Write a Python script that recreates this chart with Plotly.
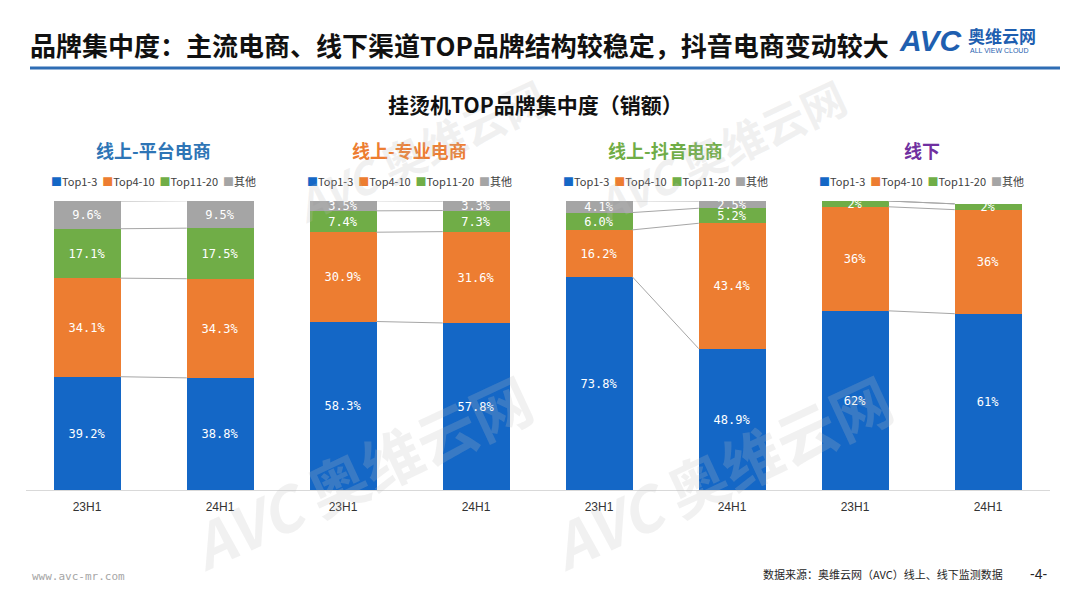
import plotly.graph_objects as go

# ---------------- data ----------------
periods = ["23H1", "24H1"]
panels = ["线上-平台电商", "线上-专业电商", "线上-抖音电商", "线下"]
panel_colors = ["#2E75B6", "#ED7D31", "#70AD47", "#7030A0"]
segments = ["Top1-3", "Top4-10", "Top11-20", "其他"]
segment_colors = ["#1467C6", "#ED7D31", "#70AD47", "#A5A5A5"]

# values per panel, [23H1, 24H1]
top1_3 = [[39.2, 38.8], [58.3, 57.8], [73.8, 48.9], [62, 61]]
top4_10 = [[34.1, 34.3], [30.9, 31.6], [16.2, 43.4], [36, 36]]
top11_20 = [[17.1, 17.5], [7.4, 7.3], [6.0, 5.2], [2, 2]]
others = [[9.6, 9.5], [3.5, 3.3], [4.1, 2.5], [0, 0]]
label_decimals = [1, 1, 1, 0]

series = [top1_3, top4_10, top11_20, others]

# ---------------- layout helpers ----------------
OFF = 8  # page body margin
W, H = 1080 - OFF, 608 - OFF
def px_x(x):
    return (x - OFF) / W
def px_y(y):
    return 1 - (y - OFF) / H

panel_w = 256
panel_x0 = 25.5
y_bottom, y_top = 490, 201
sep_px = 133
rng_half = panel_w / sep_px / 2

fig = go.Figure()
layout_axes = {}

for p in range(4):
    ax = "" if p == 0 else str(p + 1)
    xref = "x" + ax
    yref = "y" + ax
    for s in range(4):
        vals = series[s][p]
        d = label_decimals[p]
        texts = [("" if v == 0 else f"{v:.{d}f}%") for v in vals]
        fig.add_trace(go.Bar(
            x=[0, 1], y=vals, name=segments[s],
            marker=dict(color=segment_colors[s], line=dict(width=0)),
            width=0.5, text=texts, textposition="inside",
            insidetextanchor="middle", constraintext="none",
            textfont=dict(family="DejaVu Sans Mono", size=12, color="white"),
            showlegend=False, hoverinfo="skip",
            xaxis=xref, yaxis=yref,
        ))
    # connector lines between segment tops
    c0 = c1 = 0
    for s in range(4):
        c0 += series[s][p][0]
        c1 += series[s][p][1]
        fig.add_trace(go.Scatter(
            x=[0.25, 0.75], y=[c0, c1], mode="lines",
            line=dict(color="#A6A6A6", width=1),
            showlegend=False, hoverinfo="skip",
            xaxis=xref, yaxis=yref,
        ))
    x0 = panel_x0 + p * panel_w
    layout_axes["xaxis" + ax] = dict(
        domain=[px_x(x0), px_x(x0 + panel_w)],
        range=[0.5 - rng_half, 0.5 + rng_half],
        tickmode="array", tickvals=[0, 1], ticktext=periods,
        tickfont=dict(family="Liberation Sans Narrow, Arial Narrow, Liberation Sans", size=12, color="#333333"),
        ticklabelstandoff=6,
        showline=True, linecolor="#D9D9D9", linewidth=1,
        showgrid=False, zeroline=False, ticks="", fixedrange=True,
        anchor=yref,
    )
    layout_axes["yaxis" + ax] = dict(
        domain=[px_y(y_bottom), px_y(y_top)], range=[0, 100],
        visible=False, showgrid=False, zeroline=False, anchor=xref,
    )

annotations = []
cx_list = [panel_x0 + p * panel_w + panel_w / 2 for p in range(4)]
for p in range(4):
    annotations.append(dict(
        x=px_x(cx_list[p]), y=px_y(150), xref="paper", yref="paper",
        text=f"<b>{panels[p]}</b>", showarrow=False,
        font=dict(family="Noto Sans CJK SC", size=18, color=panel_colors[p]),
        xanchor="center", yanchor="middle",
    ))
    legend_txt = "  ".join(
        f"<span style='color:{segment_colors[s]}'>■</span>{segments[s]}" for s in range(4)
    )
    annotations.append(dict(
        x=px_x(cx_list[p]), y=px_y(181), xref="paper", yref="paper",
        text=legend_txt, showarrow=False,
        font=dict(family="Noto Sans CJK SC", size=11, color="#404040"),
        xanchor="center", yanchor="middle",
    ))

# watermarks
wm_color = "rgba(190,190,190,0.22)"
for (wx, wy, sz) in [(420, 150, 44), (360, 470, 60), (720, 470, 60), (720, 150, 44)]:
    annotations.append(dict(
        x=px_x(wx), y=px_y(wy), xref="paper", yref="paper",
        text="<b><i>AVC</i> 奥维云网</b>", showarrow=False, textangle=-25,
        font=dict(family="Noto Sans CJK SC", size=sz, color=wm_color),
        xanchor="center", yanchor="middle",
    ))

# header
annotations += [
    dict(x=px_x(28), y=px_y(45), xref="paper", yref="paper",
         text="<b>品牌集中度：主流电商、线下渠道TOP品牌结构较稳定，抖音电商变动较大</b>",
         showarrow=False, xanchor="left", yanchor="middle",
         font=dict(family="Noto Sans CJK SC", size=26, color="#111111")),
    dict(x=px_x(535), y=px_y(104), xref="paper", yref="paper",
         text="<b>挂烫机TOP品牌集中度（销额）</b>", showarrow=False,
         xanchor="center", yanchor="middle",
         font=dict(family="Noto Sans CJK SC", size=21, color="#111111")),
    dict(x=px_x(897), y=px_y(40), xref="paper", yref="paper",
         text="<b><i>AVC</i></b>", showarrow=False, xanchor="left", yanchor="middle",
         font=dict(family="Liberation Sans", size=30, color="#1F5FB0")),
    dict(x=px_x(966), y=px_y(36), xref="paper", yref="paper",
         text="<b>奥维云网</b>", showarrow=False, xanchor="left", yanchor="middle",
         font=dict(family="Noto Sans CJK SC", size=17, color="#1F5FB0")),
    dict(x=px_x(968), y=px_y(51), xref="paper", yref="paper",
         text="ALL VIEW CLOUD", showarrow=False, xanchor="left", yanchor="middle",
         font=dict(family="Liberation Sans", size=7, color="#1F5FB0")),
    dict(x=px_x(30), y=px_y(576), xref="paper", yref="paper",
         text="www.avc-mr.com", showarrow=False, xanchor="left", yanchor="middle",
         font=dict(family="DejaVu Sans Mono", size=11, color="#A6A6A6")),
    dict(x=px_x(1005), y=px_y(574), xref="paper", yref="paper",
         text="数据来源：奥维云网（AVC）线上、线下监测数据", showarrow=False,
         xanchor="right", yanchor="middle",
         font=dict(family="Noto Sans CJK SC", size=11, color="#262626")),
    dict(x=px_x(1038), y=px_y(574), xref="paper", yref="paper",
         text="-4-", showarrow=False, xanchor="center", yanchor="middle",
         font=dict(family="Liberation Sans", size=14, color="#262626")),
]

shapes = [
    dict(type="line", xref="paper", yref="paper",
         x0=px_x(30), x1=px_x(1060), y0=px_y(68), y1=px_y(68),
         line=dict(color="#2E6DB4", width=3)),
]

fig.update_layout(
    width=W, height=H,
    margin=dict(l=0, r=0, t=0, b=0),
    paper_bgcolor="white", plot_bgcolor="rgba(0,0,0,0)",
    barmode="stack", bargap=0,
    annotations=annotations, shapes=shapes,
    showlegend=False,
    **layout_axes,
)

fig.write_html("out.html")
